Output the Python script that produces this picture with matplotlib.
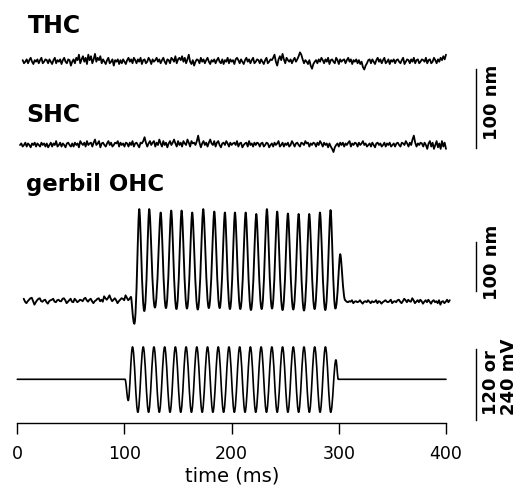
import numpy as np
import matplotlib
matplotlib.use("Agg")
import matplotlib.pyplot as plt
from matplotlib.path import Path
from matplotlib.patches import PathPatch

# ---------------- data ----------------
# THC noise, nm, every 1.25 ms starting at 5 ms
thc_start, thc_step = 5.0, 1.25
thc_nm = [2, -2, 0, 3, -2, 2, 5, 0, -3, 2, 0, 3, -2, 2, 5, -2, 0, 3, 2, -2,
          3, 0, -3, 2, 5, -2, 2, 0, 3, -3, 2, 5, 0, -2, 3, 2, -5, 0, 3, -2,
          5, 2, 9, -2, 3, 7, 0, 5, -3, 9, 2, 7, -2, 3, 10, 0, 5, 2, 7, -2,
          3, 0, -3, 2, 5, -2, 0, 3, -5, 2, 0, 3, -3, 2, -2, 3, 0, -3, 2, 5,
          0, 3, -2, 5, 2, -2, 3, 0, 5, -3, 2, 3, -2, 0, 5, 2, -3, 3, 0, 2,
          5, 0, 3, -2, 2, 5, 0, -3, 3, 2, -2, 5, 3, 0, 7, -2, 3, 5, 2, 7,
          0, 5, -2, 3, 9, 0, -3, 2, -5, 0, 3, 2, -2, 5, 0, 3, -2, 2, 5, 0,
          -3, 2, 0, 3, -2, 2, 5, 0, -2, 3, -3, 2, 0, 5, -2, 3, 0, 2, -3, 3,
          5, 2, -2, 3, 0, -3, 2, 5, 0, 3, -2, 2, 5, -2, 0, 3, 2, -2, 3, 0,
          -3, 2, 5, -2, 0, 3, 2, 5, 9, 0, -5, 3, 7, 2, 10, 3, -2, 5, 2, 0,
          3, -2, 2, 5, 0, 3, 7, 12, 9, 3, -2, 2, 0, -3, 2, -5, -9, -3, 0, 2,
          -2, 3, 0, 5, 2, -2, 3, 0, 5, -3, 2, 3, 0, -2, 5, 2, -3, 3, 0, 2,
          3, -2, 2, 5, 0, 3, -3, 2, 0, 3, -2, 2, -3, 0, -7, -10, -5, -2, 2, 3,
          -2, 3, 0, -3, 2, 5, 0, 3, -2, 2, 5, -2, 0, 3, -3, 2, 0, 3, -2, 2,
          3, 0, -2, 2, 5, -3, 0, 3, 2, -2, 3, 0, 5, -2, 2, 3, -2, 0, 3, 2,
          0, 5, -2, 2, 3, -2, 0, 5, 2, -2, 3, 0, 5, 2, 7, 3, 9]

# SHC noise, nm, every 1.25 ms starting at 2.5 ms
shc_start, shc_step = 2.5, 1.25
shc_nm = [0, 2, -2, 0, 3, -2, 2, 0, -3, 2, 0, 3, -2, 2, 0, -2, 3, 0, 2, -2,
          2, -3, 0, 3, -2, 2, 0, 5, -2, 0, 3, -2, 2, 0, -3, 2, 3, 0, -2, 2,
          -2, 3, 0, 2, -3, 5, 2, 0, 3, -2, 5, 0, 2, 3, -2, 3, 7, 0, 2, 5,
          -3, 2, 3, 0, -2, 2, 5, 0, 3, -2, 0, 3, 2, 5, -2, 3, 0, 2, -2, 3,
          2, -2, 3, 0, 5, -2, 2, 3, 0, -3, 3, 2, 5, 10, 3, -2, 2, 5, 0, 3,
          5, -2, 3, 0, 7, 2, -2, 5, 0, 3, -3, 2, 5, 0, 3, 7, 2, -2, 5, 0,
          3, -2, 5, 2, 0, 7, 3, -2, 5, 2, 3, 0, 5, 12, 3, -3, 2, 5, 0, 3,
          -2, 3, 7, 2, 0, 5, -2, 3, 5, 0, -3, 2, 3, 0, 5, 2, -2, 3, 0, 2,
          3, 0, 5, -2, 2, 3, -3, 0, 2, 3, -2, 5, 0, 2, -2, 3, 0, 3, 2, -2,
          2, 3, -2, 0, 3, 2, -3, 0, 2, -2, 3, 0, 2, 5, -2, 0, 3, -2, 2, 0,
          3, -2, 0, 5, 2, -2, 2, 3, 0, -2, 3, 2, 0, 5, 2, 3, -2, 2, 0, 3,
          2, -2, 3, 0, 5, 2, -2, 3, 0, 2, -3, 2, -2, -5, -9, -3, 0, 2, -2, 3,
          0, 3, -2, 2, 0, 3, 5, -2, 2, 0, 3, 2, -2, 3, 0, 2, 5, 0, 2, -2,
          0, 2, -2, 3, 0, -3, 2, 3, 0, 2, -2, 0, 3, -2, 2, 0, 3, -2, 0, 2,
          -2, 2, 3, 0, -2, 3, 2, 0, 5, 2, -2, 3, 0, 7, 12, 3, -2, 2, 0, 3,
          2, -2, 3, 0, -5, 2, 5, -2, 3, -5, 0, 5, -3, 2, -5, 5, -2, 3, -5]

# gerbil OHC: baseline noise before and after the tone, nm, every 1.25 ms
ohc_pre_start, ohc_post_start, ohc_step = 6.0, 306.0, 1.25
ohc_pre_nm = [6, 0, -3, 1, 4, 7, 8, 1, -6, -1, 3, 6, 7, 1, 0, 3, 4, -1, -4, 1,
              3, 4, 6, 0, -1, 3, 4, 1, 1, 6, 7, 3, -3, 0, 3, 6, 0, -1, 6, 3,
              -1, 1, 4, 3, 1, 6, 8, 3, 0, 4, 6, 1, -3, 1, 3, 6, 7, 1, 4, 0,
              11, 7, 4, 8, 13, 6, 1, 4, 7, 3, -3, 1, 4, 7, 6, 3, 13, 8, 3, 6,
              10]
ohc_post_nm = [3, 0, -1, 1, 0, 3, -3, 0, 1, -1, 0, 3, -1, -4, 0, 1, -1, 3, 0, -3,
               1, -1, 0, 3, -3, 1, 0, -4, -1, 1, 3, 0, -1, 1, 4, -3, 0, 1, -1, 3,
               4, 0, -3, 1, 6, 3, -1, 4, 1, 0, 7, 3, -3, 0, 3, -1, 4, 1, -4, 0,
               3, -1, 4, 0, -4, 1, 3, -1, 1, -3, 3, -6, 0, 1, -3, 0, 4, -1, 3]
# OHC response: peaks and troughs during the tone (ms, nm)
ohc_osc_t = [106.0, 109.2, 113.8, 118.5, 123.1, 128.4, 133.8, 138.7, 143.6, 148.5,
             153.3, 158.3, 163.2, 168.4, 173.5, 178.7, 183.8, 188.8, 193.7, 198.4,
             203.1, 208.1, 213.1, 218.0, 223.0, 228.0, 232.9, 237.7, 242.5, 247.5,
             252.5, 257.5, 262.5, 267.5, 272.4, 277.4, 282.4, 287.4, 292.3, 296.8,
             301.3, 306.0]
ohc_osc_nm = [10, -45, 189, -19, 189, -12, 182, -13, 186, -15,
              186, -14, 182, -16, 189, -13, 184, -13, 182, -15,
              182, -15, 182, -17, 179, -15, 189, -14, 184, -17,
              180, -16, 179, -18, 179, -15, 182, -17, 187, -14,
              97, 3]

# stimulus: flat parts and extrema of the tone burst (ms, mV)
stim_pre_t, stim_pre_mv = [0.0, 100.5], [0, 0]
stim_post_t, stim_post_mv = [299.5, 400.0], [0, 0]
stim_osc_t = [100.5, 103.5, 107.5, 112.5, 117.5, 122.5, 127.5, 132.5, 137.5, 142.5,
              147.5, 152.5, 157.5, 162.5, 167.5, 172.5, 177.5, 182.5, 187.5, 192.5,
              197.5, 202.5, 207.5, 212.5, 217.5, 222.5, 227.5, 232.5, 237.5, 242.5,
              247.5, 252.5, 257.5, 262.5, 267.5, 272.5, 277.5, 282.5, 287.5, 292.5,
              297.3, 299.5]
stim_osc_mv = [0, -36, 55, -56, 55, -56, 55, -56, 55, -56,
               55, -56, 55, -56, 55, -56, 55, -56, 55, -56,
               55, -56, 55, -56, 55, -56, 55, -56, 55, -56,
               55, -56, 55, -56, 55, -56, 55, -56, 55, -56,
               33, 0]

x_ticks = [0, 100, 200, 300, 400]

# ---------------- layout (pixels of the 520x487 picture) ----------------
W, H = 520, 487
X0, X1 = 17.3, 446.0          # where 0 ms and 400 ms sit
FONT = "DejaVu Sans"


def trace_axes(fig, baseline_px, gain):
    """Transparent full-height axes whose y=0 sits at baseline_px, gain in px per unit."""
    ax = fig.add_axes([X0 / W, 0, (X1 - X0) / W, 1])
    ax.set_xlim(0, 400)
    ax.set_ylim(-(H - baseline_px) / gain, baseline_px / gain)
    ax.patch.set_alpha(0)
    ax.axis("off")
    return ax


def smooth_segments(times, values, peak_handle=0.36, trough_handle=0.36):
    """Bezier pieces through extrema with flat tangents at each extremum."""
    verts, codes = [], []
    for i in range(1, len(times)):
        t0, v0, t1, v1 = times[i - 1], values[i - 1], times[i], values[i]
        d = t1 - t0
        h0 = peak_handle if v0 > v1 else trough_handle
        h1 = peak_handle if v1 > v0 else trough_handle
        verts += [(t0 + h0 * d, v0), (t1 - h1 * d, v1), (t1, v1)]
        codes += [Path.CURVE4] * 3
    return verts, codes


def draw_trace(ax, pre, osc, post, lw, peak_handle=0.36, trough_handle=0.36):
    """pre/post: (t, v) polylines, osc: (t, v) extrema joined smoothly."""
    verts, codes = [], []
    if pre is not None:
        verts += list(zip(*pre))
        codes += [Path.MOVETO] + [Path.LINETO] * (len(pre[0]) - 1)
    if osc is not None:
        v, c = smooth_segments(osc[0], osc[1], peak_handle, trough_handle)
        verts += v
        codes += c
    if post is not None:
        pts = list(zip(*post))
        verts += pts[1:]
        codes += [Path.LINETO] * (len(pts) - 1)
    patch = PathPatch(Path(verts, codes), fill=False, lw=lw, edgecolor="black",
                      joinstyle="round", capstyle="round", clip_on=False)
    ax.add_patch(patch)


def fig_text(x_px, y_px, s, **kwargs):
    plt.gcf().text(x_px / W, 1 - y_px / H, s, **kwargs)


if __name__ == "__main__":
    fig = plt.figure(figsize=(W / 100, H / 100), dpi=100)

    ms_per_px = 400 / (X1 - X0)
    bar_x = (476 - X0) * ms_per_px
    txt_x = (491.7 - X0) * ms_per_px

    # THC
    ax_thc = trace_axes(fig, 61.7, 0.78)
    t = thc_start + thc_step * np.arange(len(thc_nm))
    draw_trace(ax_thc, (t, thc_nm), None, None, lw=1.3)
    ax_thc.plot([bar_x, bar_x], [-10, -110], color="black", lw=1.0, clip_on=False)
    ax_thc.text(txt_x, -52, "100 nm", rotation=90, ha="center", va="center",
                family=FONT, weight="bold", fontsize=13)

    # SHC
    ax_shc = trace_axes(fig, 145, 0.78)
    t = shc_start + shc_step * np.arange(len(shc_nm))
    draw_trace(ax_shc, (t, shc_nm), None, None, lw=1.3)

    # gerbil OHC
    ax_ohc = trace_axes(fig, 301.7, 0.49)
    t_pre = ohc_pre_start + ohc_step * np.arange(len(ohc_pre_nm))
    t_post = ohc_post_start + ohc_step * np.arange(len(ohc_post_nm))
    draw_trace(ax_ohc, (t_pre, ohc_pre_nm), (ohc_osc_t, ohc_osc_nm),
               (t_post, ohc_post_nm), lw=1.35, peak_handle=0.25, trough_handle=0.45)
    ax_ohc.plot([bar_x, bar_x], [22, 122], color="black", lw=1.0, clip_on=False)
    ax_ohc.text(txt_x, 80, "100 nm", rotation=90, ha="center", va="center",
                family=FONT, weight="bold", fontsize=13)

    # stimulus
    ax_stim = trace_axes(fig, 379.3, 0.589)
    draw_trace(ax_stim, (stim_pre_t, stim_pre_mv), (stim_osc_t, stim_osc_mv),
               (stim_post_t, stim_post_mv), lw=1.2)
    ax_stim.plot([bar_x, bar_x], [-69, 51], color="black", lw=1.0, clip_on=False)
    ax_stim.text((500 - X0) * ms_per_px, -60.6, "120 or\n240 mV", rotation=90,
                 ha="center", va="bottom", multialignment="left", linespacing=0.95,
                 family=FONT, weight="bold", fontsize=13)

    # time axis
    ax_time = fig.add_axes([X0 / W, 1 - 422.7 / H, (X1 - X0) / W, 0.01])
    ax_time.patch.set_alpha(0)
    ax_time.set_xlim(0, 400)
    for side in ["top", "left", "right"]:
        ax_time.spines[side].set_visible(False)
    ax_time.spines["bottom"].set_linewidth(1.0)
    ax_time.set_yticks([])
    ax_time.set_xticks(x_ticks)
    ax_time.set_xticklabels([str(v) for v in x_ticks], family=FONT, fontsize=12.5)
    ax_time.tick_params(axis="x", direction="out", length=8, width=1.0, pad=8)

    fig_text(231.7, 482, "time (ms)", ha="center", va="baseline",
             family=FONT, fontsize=14)

    # panel labels
    fig_text(27.5, 32.7, "THC", va="baseline", family=FONT, weight="bold", fontsize=17)
    fig_text(26.5, 121.7, "SHC", va="baseline", family=FONT, weight="bold", fontsize=17)
    fig_text(26.5, 190.7, "gerbil OHC", va="baseline", family=FONT, weight="bold", fontsize=16.5)

    fig.savefig("out.png", dpi=100)
